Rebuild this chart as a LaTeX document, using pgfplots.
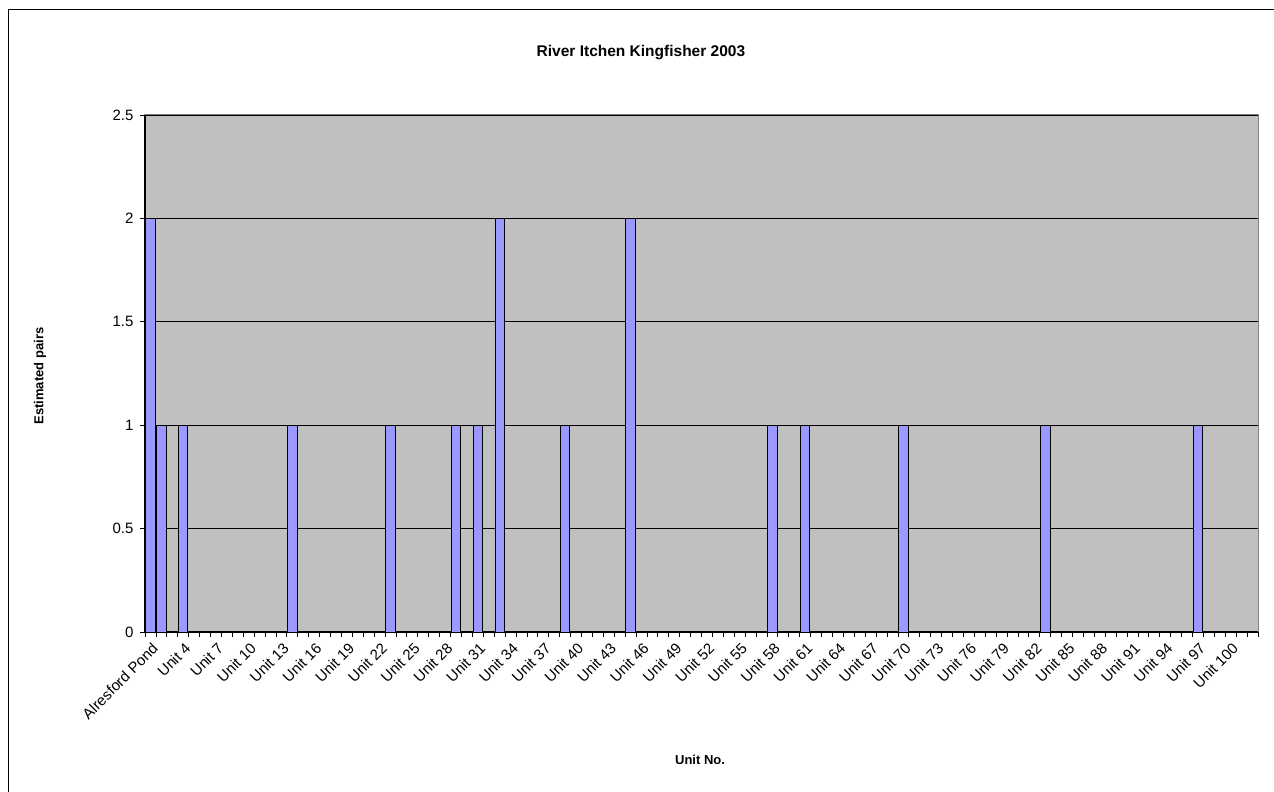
\documentclass[border=0pt]{standalone}
\usepackage{fontspec}
\setmainfont{Liberation Sans}
\usepackage{pgfplots}
\usepackage{pgfplotstable}
\pgfplotsset{compat=1.18}

\definecolor{plotgray}{RGB}{192,192,192}
\definecolor{barblue}{RGB}{153,153,255}
\definecolor{bordergray}{RGB}{128,128,128}

% category index (0 = Alresford Pond, i = Unit i+1), estimated pairs
\pgfplotstableread{
idx val
0 2
1 1
3 1
13 1
22 1
28 1
30 1
32 2
38 1
44 2
57 1
60 1
69 1
82 1
96 1
}\kingfisher

\begin{document}
\begin{tikzpicture}[x=1pt,y=1pt]
\path[use as bounding box] (0,0) rectangle (1274,792);
\draw[line width=1pt] (8,-20) -- (8,782) -- (1300,782);
\begin{axis}[
  at={(145pt,160pt)}, anchor=south west,
  width=1113pt, height=517pt, scale only axis,
  font=\fontsize{15}{17}\selectfont,
  /pgf/number format/assume math mode=true,
  xmin=0, xmax=102, ymin=0, ymax=2.5,
  axis x line*=bottom, axis y line*=left,
  axis line style={black, line width=1.2pt},
  axis background/.style={fill=plotgray, draw=bordergray, line width=1pt},
  ytick={0,0.5,1,1.5,2,2.5},
  yticklabels={0,0.5,1,1.5,2,2.5},
  yticklabel style={xshift=-3pt},
  ymajorgrids, major grid style={black, line width=0.8pt},
  tick align=outside, major tick length=5pt, minor tick length=5pt,
  tick style={black, line width=0.8pt},
  xtick={0.5,3.5,6.5,9.5,12.5,15.5,18.5,21.5,24.5,27.5,30.5,33.5,36.5,39.5,42.5,45.5,48.5,51.5,54.5,57.5,60.5,63.5,66.5,69.5,72.5,75.5,78.5,81.5,84.5,87.5,90.5,93.5,96.5,99.5},
  xticklabels={Alresford Pond,Unit 4,Unit 7,Unit 10,Unit 13,Unit 16,Unit 19,Unit 22,Unit 25,Unit 28,Unit 31,Unit 34,Unit 37,Unit 40,Unit 43,Unit 46,Unit 49,Unit 52,Unit 55,Unit 58,Unit 61,Unit 64,Unit 67,Unit 70,Unit 73,Unit 76,Unit 79,Unit 82,Unit 85,Unit 88,Unit 91,Unit 94,Unit 97,Unit 100},
  x tick style={draw=none},
  minor xtick={0,1,...,102},
  minor x tick style={draw=black, line width=0.8pt},
  xticklabel style={rotate=45, anchor=north east, inner sep=1pt, xshift=-2pt, yshift=-3pt},
  title={River Itchen Kingfisher 2003},
  title style={font=\bfseries\fontsize{15.5}{18}\selectfont, at={(axis description cs:0.4456,1.11)}, anchor=center},
  xlabel={Unit No.},
  xlabel style={font=\bfseries\fontsize{13}{15}\selectfont, at={(axis description cs:0.4987,-0.2476)}, anchor=center},
  ylabel={Estimated pairs},
  ylabel style={font=\bfseries\fontsize{13}{15}\selectfont, at={(axis description cs:-0.0943,0.495)}, anchor=center, rotate=0},
]
\addplot[ybar, bar width=0.86, fill=barblue, draw=black, line width=0.8pt]
  table[x expr=\thisrow{idx}+0.5, y=val] {\kingfisher};
\end{axis}
\end{tikzpicture}
\end{document}
